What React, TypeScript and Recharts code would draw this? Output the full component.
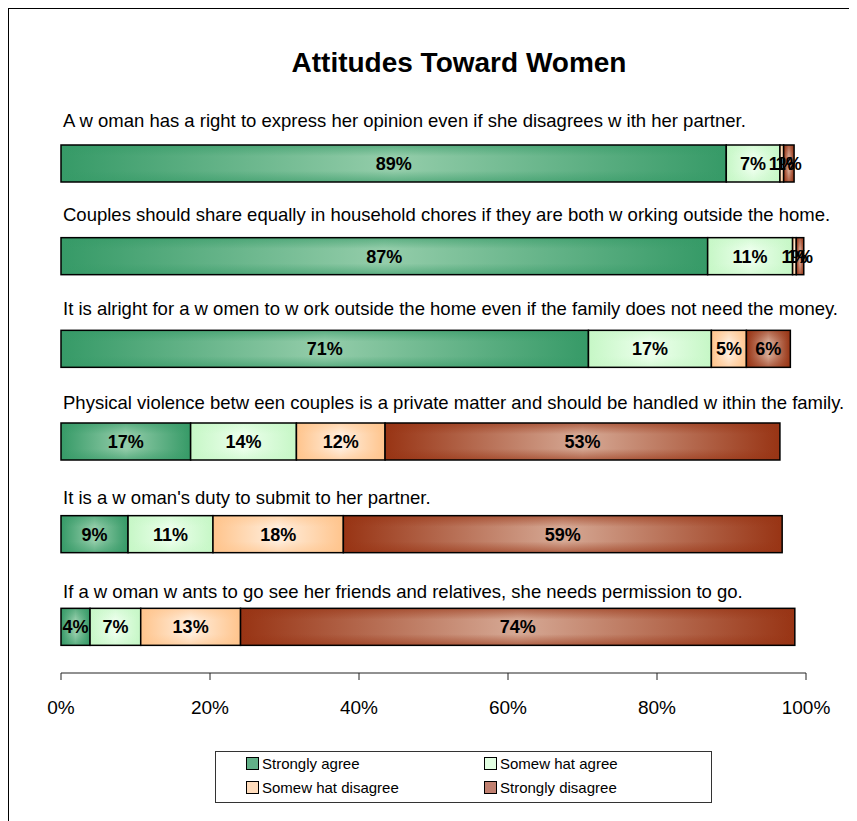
import { Bar, BarChart, LabelList, Legend, XAxis, YAxis } from "recharts";

const questions = [
  "A w oman has a right to express her opinion even if she disagrees w ith her partner.",
  "Couples should share equally in household chores if they are both w orking outside the home.",
  "It is alright for a w omen to w ork outside the home even if the family does not need the money.",
  "Physical violence betw een couples is a private matter and should be handled w ithin the family.",
  "It is a w oman's duty to submit to her partner.",
  "If a w oman w ants to go see her friends and relatives, she needs permission  to go."
];
const stronglyAgree = [89.3, 86.8, 70.8, 17.4, 9.0, 3.9];
const somewhatAgree = [7.2, 11.4, 16.5, 14.2, 11.4, 6.8];
const somewhatDisagree = [0.5, 0.5, 4.7, 11.9, 17.5, 13.4];
const stronglyDisagree = [1.4, 1.0, 5.9, 53.0, 58.9, 74.4];
const xTicks = [0, 20, 40, 60, 80, 100];

const data = questions.map((q, i) => ({
  q,
  sa: stronglyAgree[i],
  swa: somewhatAgree[i],
  swd: somewhatDisagree[i],
  sd: stronglyDisagree[i]
}));

const series = [
  { key: "sa", name: "Strongly agree", edge: "#369a67", mid: "#94cdaa", swatch: "#62b088" },
  { key: "swa", name: "Somew hat agree", edge: "#c6f7c6", mid: "#ecffec", swatch: "#e2ffe2" },
  { key: "swd", name: "Somew hat disagree", edge: "#ffc48c", mid: "#ffeedd", swatch: "#ffdcbc" },
  { key: "sd", name: "Strongly disagree", edge: "#983414", mid: "#d6a995", swatch: "#c08070" }
];

function GradientBar(props: any) {
  const { x, y, width, height, k } = props;
  if (!width || width <= 0) return null;
  return (
    <g>
      <rect x={x} y={y} width={width} height={height} fill={`url(#h-${k})`} />
      <rect x={x} y={y} width={width} height={height} fill={`url(#v-${k})`} />
      <rect x={x} y={y} width={width} height={height} fill="none" stroke="#000" strokeWidth={1.5} />
    </g>
  );
}

// question text sits above each bar; the reference drifts down a little per row
function QuestionLabel(props: any) {
  const { x, y, value, index } = props;
  return (
    <text x={x + 2} y={y - 18.5 + (index || 0) * 1.6} fontSize={18.5} fill="#000" textAnchor="start">
      {value}
    </text>
  );
}

function LegendBox() {
  return (
    <div
      style={{
        boxSizing: "border-box",
        width: 497,
        height: 52,
        border: "1px solid #333",
        background: "#fff",
        position: "relative",
        fontSize: 15,
        color: "#000"
      }}
    >
      {series.map((s, i) => (
        <div
          key={s.key}
          style={{
            position: "absolute",
            left: i % 2 === 0 ? 30 : 268,
            top: i < 2 ? 1 : 25,
            height: 20,
            display: "flex",
            alignItems: "center",
            whiteSpace: "nowrap"
          }}
        >
          <span
            style={{
              display: "inline-block",
              width: 11,
              height: 11,
              border: "1px solid #000",
              background: s.swatch,
              marginRight: 3
            }}
          />
          {s.name}
        </div>
      ))}
    </div>
  );
}

export default function App() {
  return (
    <div
      style={{
        position: "relative",
        width: 848,
        height: 812,
        borderTop: "1px solid #000",
        borderLeft: "1px solid #000",
        fontFamily: "'Liberation Sans', Arial, sans-serif",
        background: "#fff"
      }}
    >
      <div
        style={{
          position: "absolute",
          left: 450,
          top: 38,
          transform: "translateX(-50%)",
          fontSize: 28,
          lineHeight: "32px",
          fontWeight: "bold",
          whiteSpace: "nowrap",
          zIndex: 2
        }}
      >
        Attitudes Toward Women
      </div>
      <BarChart
        width={848}
        height={812}
        data={data}
        layout="vertical"
        margin={{ top: 108, right: 51, bottom: 108, left: 52 }}
        style={{ overflow: "visible" }}
      >
        <defs>
          {series.map((s) => (
            <linearGradient key={`h-${s.key}`} id={`h-${s.key}`} x1="0" y1="0" x2="1" y2="0">
              <stop offset="0" stopColor={s.edge} />
              <stop offset="0.5" stopColor={s.mid} />
              <stop offset="1" stopColor={s.edge} />
            </linearGradient>
          ))}
          {series.map((s) => (
            <linearGradient key={`v-${s.key}`} id={`v-${s.key}`} x1="0" y1="0" x2="0" y2="1">
              <stop offset="0" stopColor={s.edge} stopOpacity={0.6} />
              <stop offset="0.3" stopColor={s.edge} stopOpacity={0} />
              <stop offset="0.7" stopColor={s.edge} stopOpacity={0} />
              <stop offset="1" stopColor={s.edge} stopOpacity={0.6} />
            </linearGradient>
          ))}
        </defs>
        <XAxis
          type="number"
          domain={[0, 100]}
          ticks={xTicks}
          interval={0}
          height={40}
          tickFormatter={(v) => `${v}%`}
          tick={{ fontSize: 19, fill: "#000" }}
          tickSize={7}
          tickMargin={21}
          axisLine={{ stroke: "#222" }}
          tickLine={{ stroke: "#222" }}
        />
        <YAxis type="category" dataKey="q" hide />
        {series.map((s, i) => (
          <Bar
            key={s.key}
            dataKey={s.key}
            name={s.name}
            stackId="a"
            barSize={37}
            fill={s.swatch}
            isAnimationActive={false}
            shape={(p: any) => <GradientBar {...p} k={s.key} />}
          >
            {i === 0 && <LabelList dataKey="q" content={QuestionLabel} />}
            <LabelList
              dataKey={s.key}
              position="center"
              formatter={(v: any) => `${Math.round(Number(v))}%`}
              style={{ fontSize: 18, fontWeight: "bold", fill: "#000" }}
            />
          </Bar>
        ))}
        <Legend
          layout="horizontal"
          verticalAlign="middle"
          align="center"
          wrapperStyle={{ left: 206, top: 742, width: 497, height: 52 }}
          content={() => <LegendBox />}
        />
      </BarChart>
    </div>
  );
}
